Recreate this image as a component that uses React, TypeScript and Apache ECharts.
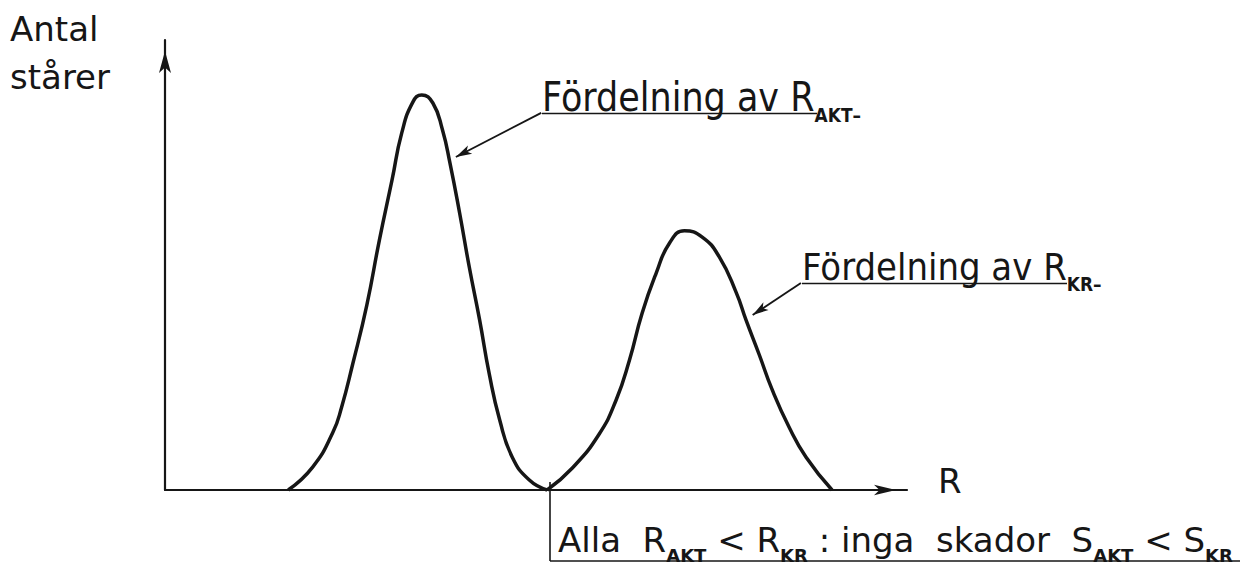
import { useEffect, useRef } from 'react';
import * as echarts from 'echarts';

// Relative scale: R (x) 0..100, antal (y) 0..100
const rMin = 0;
const rMax = 100;
const countMin = 0;
const countMax = 100;

// Fördelning av R_AKT
const aktR = [16.6, 19.9, 22.6, 23.8, 25.3, 27.2, 28.9, 30.6, 31.9, 33.4, 34.6, 36.1, 37.4, 38.4, 39.7, 41.0, 42.4, 43.7, 45.1, 46.8, 49.1, 51.5];
const aktCount = [0, 5.1, 12.7, 18.4, 28.0, 41.1, 55.6, 68.9, 79.3, 86.2, 87.8, 86.0, 80.0, 72.7, 61.6, 49.6, 37.8, 25.8, 15.6, 7.3, 2.2, 0];

// Fördelning av R_KR
const krR = [51.5, 54.9, 58.5, 60.8, 62.6, 64.3, 66.2, 68.0, 70.0, 72.4, 74.7, 77.0, 78.3, 80.1, 81.8, 84.1, 86.4, 89.9];
const krCount = [0, 4.9, 12.4, 20.0, 28.9, 39.3, 48.2, 54.9, 57.6, 56.2, 51.8, 43.8, 37.8, 30.0, 22.4, 14.0, 7.3, 0];

// leader lines (from label to curve)
const leaderAkt = [[50.7, 83.8], [39.2, 74.0]];
const leaderKr = [[85.7, 46.0], [79.2, 38.9]];

const yName = 'Antal\nstårer';
const xName = 'R';
const labelAktMain = 'Fördelning av R';
const labelAktSub = 'AKT–';
const labelKrMain = 'Fördelning av R';
const labelKrSub = 'KR–';
const conclusion = '{m|Alla  R}{s|AKT}{m| < R}{s|KR}{m| : inga  skador  S}{s|AKT}{m| < S}{s|KR}';

const INK = '#161616';
const FONT = "'DejaVu Sans', 'Liberation Sans', sans-serif";

const richStyle = (mainSize: number, subSize: number) => ({
  m: { fontSize: mainSize, padding: [0, 0, 7, 0], verticalAlign: 'bottom', fill: INK, color: INK, fontFamily: FONT },
  s: { fontSize: subSize, fontWeight: 'bold', verticalAlign: 'bottom', fill: INK, color: INK, fontFamily: FONT },
});

const pairs = (xs: number[], ys: number[]) => xs.map((x, i) => [x, ys[i]]);

const leader = (pts: number[][]) => ({
  silent: true,
  symbol: ['none', 'arrow'],
  symbolSize: [7, 16],
  label: { show: false },
  lineStyle: { color: INK, width: 1.9, type: 'solid' },
  emphasis: { disabled: true },
  data: [[{ coord: pts[0] }, { coord: pts[1] }]],
});

const richText = (x: number, y: number, text: string, main: number, sub: number, sy: number) => ({
  type: 'text',
  x,
  y,
  scaleY: sy,
  style: {
    text,
    rich: richStyle(main, sub),
    align: 'left',
    verticalAlign: 'bottom',
    textAlign: 'left',
    textVerticalAlign: 'bottom',
  },
});

const hLine = (x1: number, x2: number, y: number) => ({
  type: 'line',
  silent: true,
  shape: { x1, y1: y, x2, y2: y },
  style: { stroke: INK, lineWidth: 1.6 },
});

export default function App() {
  const ref = useRef<HTMLDivElement>(null);
  useEffect(() => {
    const chart = echarts.init(ref.current!, null, { renderer: 'svg' });
    chart.setOption({
      animation: false,
      backgroundColor: '#ffffff',
      grid: { left: 165, right: 341, top: 40, bottom: 85 },
      xAxis: {
        type: 'value',
        min: rMin,
        max: rMax,
        name: xName,
        nameLocation: 'end',
        nameGap: 31,
        nameTextStyle: { fontSize: 34, lineHeight: 18, color: INK, fontFamily: FONT, verticalAlign: 'bottom' },
        axisLine: {
          show: true,
          symbol: ['none', 'arrow'],
          symbolSize: [8, 22],
          symbolOffset: [0, -11],
          lineStyle: { color: INK, width: 2.2 },
        },
        axisTick: { show: false },
        axisLabel: { show: false },
        splitLine: { show: false },
      },
      yAxis: {
        type: 'value',
        min: countMin,
        max: countMax,
        axisLine: {
          show: true,
          symbol: ['none', 'arrow'],
          symbolSize: [9, 22],
          symbolOffset: [0, -11],
          lineStyle: { color: INK, width: 2.2 },
        },
        axisTick: { show: false },
        axisLabel: { show: false },
        splitLine: { show: false },
      },
      series: [
        {
          name: 'Fördelning av R_AKT',
          type: 'line',
          data: pairs(aktR, aktCount),
          smooth: 0.5,
          showSymbol: false,
          clip: false,
          lineStyle: { color: INK, width: 3.5 },
          markLine: leader(leaderAkt),
        },
        {
          name: 'Fördelning av R_KR',
          type: 'line',
          data: pairs(krR, krCount),
          smooth: 0.5,
          showSymbol: false,
          clip: false,
          lineStyle: { color: INK, width: 3.5 },
          markLine: leader(leaderKr),
        },
      ],
      graphic: [
        {
          type: 'text',
          x: 10,
          y: 5,
          style: {
            text: yName,
            fontSize: 34,
            lineHeight: 48,
            fontFamily: FONT,
            fill: INK,
            align: 'left',
            verticalAlign: 'top',
            textAlign: 'left',
            textVerticalAlign: 'top',
          },
        },
        richText(542, 125, `{m|${labelAktMain}}{s|${labelAktSub}}`, 35, 17, 1.15),
        hLine(542, 817, 113.5),
        richText(802, 293.5, `{m|${labelKrMain}}{s|${labelKrSub}}`, 34, 17, 1.1),
        hLine(802, 1067, 283.5),
        richText(558, 564, conclusion, 34, 18, 1),
        { type: 'line', silent: true, shape: { x1: 550, y1: 482, x2: 550, y2: 561 }, style: { stroke: INK, lineWidth: 1.6 } },
        hLine(550, 1240, 561),
      ],
    });
    return () => chart.dispose();
  }, []);
  return (
    <div
      ref={ref}
      style={{ position: 'fixed', left: 0, top: 0, width: 1248, height: 575, background: '#fff' }}
    />
  );
}
